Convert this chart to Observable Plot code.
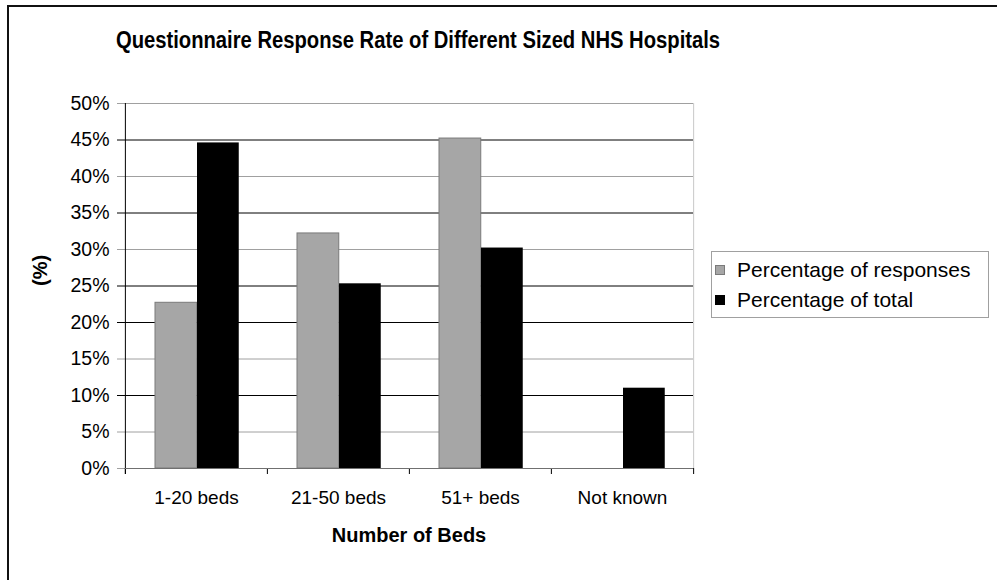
<!DOCTYPE html>
<html>
<head>
<meta charset="utf-8">
<script src="https://cdn.jsdelivr.net/npm/d3@7"></script>
<script src="https://cdn.jsdelivr.net/npm/@observablehq/plot@0.6"></script>
<style>
  body { margin: 0; background: #fff; font-family: "Liberation Sans", Arial, sans-serif; color: #000; }
  #wrap { position: relative; width: 997px; height: 580px; overflow: hidden; background: #fff; }
  #frame { position: absolute; left: 7px; top: 5px; width: 1200px; height: 800px;
           border-left: 2px solid #111; border-top: 2px solid #111; }
  #chart { position: absolute; left: 0; top: 0; }
  #title { position: absolute; left: 0; width: 836px; top: 26px; text-align: center;
           font-weight: bold; font-size: 23.5px; line-height: 28px; white-space: nowrap;
           transform: scaleX(0.86); transform-origin: 418px 0; }
  #legend { position: absolute; left: 711px; top: 251px; width: 278px; height: 67px;
            border: 1px solid #a0a0a0; background: #fff; box-sizing: border-box; }
  .row { position: absolute; left: 0; height: 26px; line-height: 26px; font-size: 21px; white-space: nowrap; }
  .swatch { position: absolute; left: 3px; top: 8px; width: 10px; height: 10px; box-sizing: border-box; }
  .row span.t { position: absolute; left: 25px; }
</style>
</head>
<body>
<div id="wrap">
  <div id="frame"></div>
  <div id="chart"></div>
  <div id="title"></div>
  <div id="legend"></div>
</div>
<script>
// Response rate by hospital size (number of beds)
const chartTitle = "Questionnaire Response Rate of Different Sized NHS Hospitals";
const categories = ["1-20 beds", "21-50 beds", "51+ beds", "Not known"];
const seriesNames = ["Percentage of responses", "Percentage of total"];
const responses = [22.7, 32.2, 45.2, 0];
const total = [44.6, 25.3, 30.2, 11.0];
const yTicks = [0, 5, 10, 15, 20, 25, 30, 35, 40, 45, 50];
const xTitle = "Number of Beds";
const yTitle = "(%)";

// gridlines drawn dark vs. light grey
const darkGrid = new Set([10, 20, 25, 35, 45]);

const W = 997, H = 580;
const mL = 124, mR = 304, mT = 103, mB = 112;
const step = (W - mL - mR) / categories.length;
const barW = 42, outer = 30;
const half = step / 2;

const colors = {[seriesNames[0]]: "#a6a6a6", [seriesNames[1]]: "#000000"};
const strokes = {[seriesNames[0]]: "#7a7a7a", [seriesNames[1]]: "#000000"};

const rows = categories.flatMap((c, i) => [
  {category: c, series: seriesNames[0], value: responses[i]},
  {category: c, series: seriesNames[1], value: total[i]}
]);
const drawn = rows.filter(d => d.value > 0);

document.getElementById("title").textContent = chartTitle;

const chart = Plot.plot({
  width: W,
  height: H,
  marginLeft: mL,
  marginRight: mR,
  marginTop: mT,
  marginBottom: mB,
  style: {fontFamily: "'Liberation Sans', Arial, sans-serif", fontSize: "19px", color: "#000", background: "transparent", overflow: "visible"},
  x: {type: "band", domain: categories, padding: 0, axis: null},
  y: {domain: [0, 50], axis: null},
  marks: [
    // horizontal gridlines
    Plot.ruleY(yTicks, {y: d => d, stroke: d => darkGrid.has(d) ? "#000" : "#a0a0a0", strokeWidth: 1, insetLeft: -7}),
    // right border of the plot area
    Plot.ruleX([categories[categories.length - 1]], {x: d => d, dx: half, y1: 0, y2: 50, stroke: "#c8c8c8"}),
    // grouped bars
    Plot.barY(drawn.filter(d => d.series === seriesNames[0]), {
      x: "category", y: "value", fill: colors[seriesNames[0]], stroke: strokes[seriesNames[0]], strokeWidth: 1,
      insetLeft: outer, insetRight: step - outer - barW
    }),
    Plot.barY(drawn.filter(d => d.series === seriesNames[1]), {
      x: "category", y: "value", fill: colors[seriesNames[1]],
      insetLeft: outer + barW, insetRight: step - outer - 2 * barW
    }),
    // y axis line
    Plot.ruleX([categories[0]], {x: d => d, dx: -half, y1: 0, y2: 50, insetTop: 6, stroke: "#000"}),
    // category boundary ticks
    Plot.ruleX(categories, {x: d => d, dx: -half, y1: 0, y2: 0, insetBottom: -6, stroke: "#000"}),
    Plot.ruleX([categories[categories.length - 1]], {x: d => d, dx: half, y1: 0, y2: 0, insetBottom: -6, stroke: "#000"}),
    // baseline
    Plot.ruleY([0], {stroke: "#707070"}),
    Plot.axisY({ticks: yTicks, tickSize: 0, tickPadding: 15, tickFormat: d => d + "%", fontSize: 19.5, label: null}),
    Plot.axisX({tickSize: 0, tickPadding: 22, fontSize: 19, label: null}),
    Plot.text([xTitle], {frameAnchor: "bottom", dy: 67, lineAnchor: "middle", fontWeight: "bold", fontSize: 20}),
    Plot.text([yTitle], {frameAnchor: "left", dx: -84, rotate: -90, lineAnchor: "middle", fontWeight: "bold", fontSize: 20})
  ]
});
document.getElementById("chart").appendChild(chart);

// legend
const legend = document.getElementById("legend");
seriesNames.forEach((name, i) => {
  const row = document.createElement("div");
  row.className = "row";
  row.style.top = (5 + i * 30) + "px";
  const sw = document.createElement("div");
  sw.className = "swatch";
  sw.style.background = colors[name];
  sw.style.border = "1px solid " + strokes[name];
  const t = document.createElement("span");
  t.className = "t";
  t.textContent = name;
  row.appendChild(sw);
  row.appendChild(t);
  legend.appendChild(row);
});
</script>
</body>
</html>
